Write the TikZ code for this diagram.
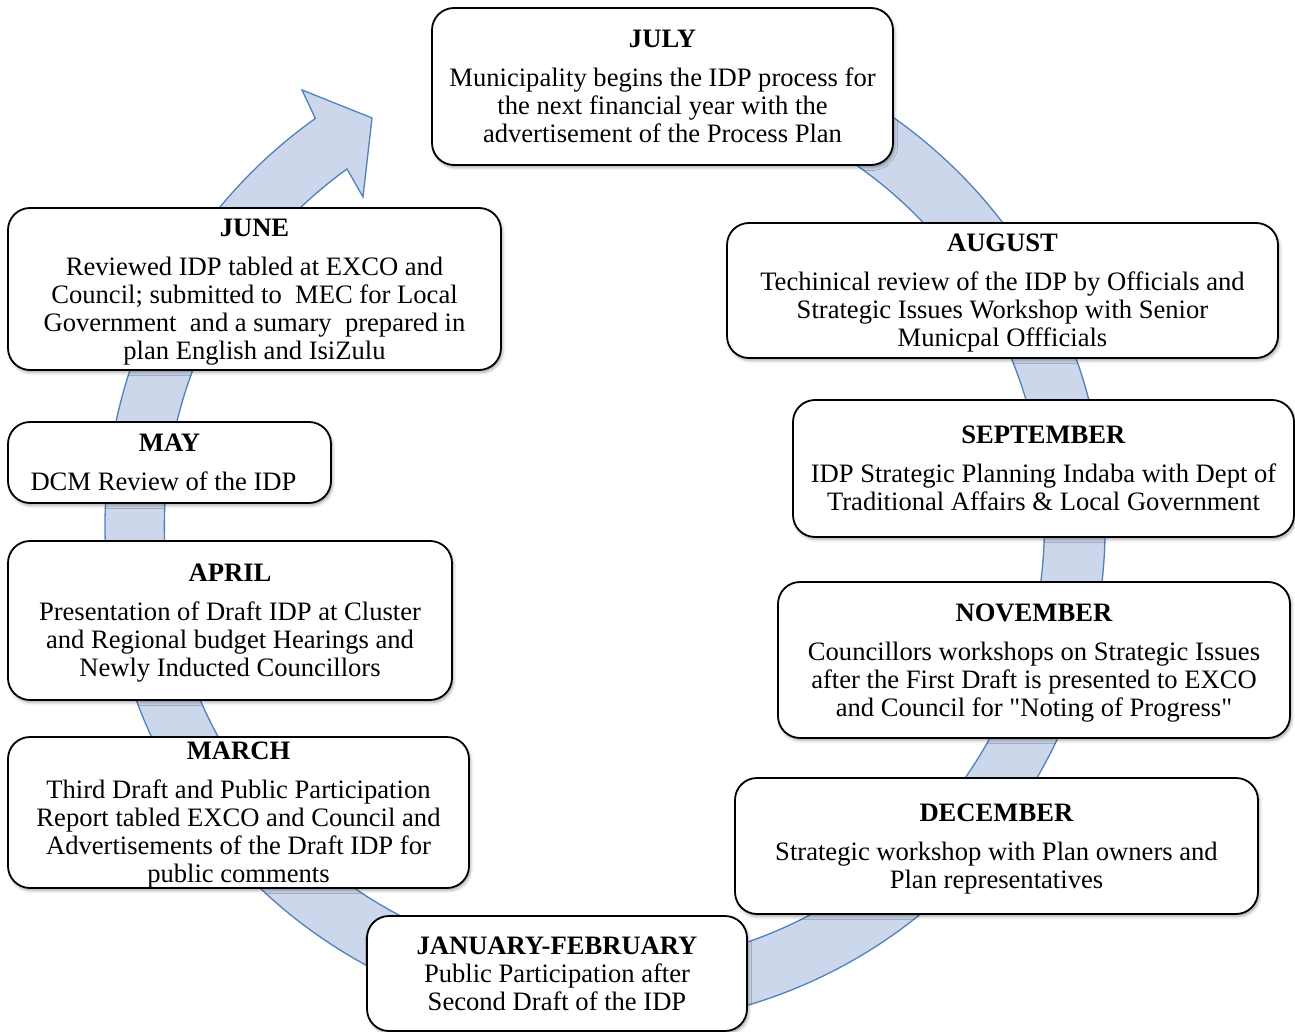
\documentclass[tikz,border=0pt]{standalone}
\usepackage{fontspec}
\setmainfont{Liberation Serif}[Ligatures=TeXOff]
\usetikzlibrary{shadows.blur}
\definecolor{bandfill}{RGB}{204,215,235}
\definecolor{bandline}{RGB}{79,129,189}
\tikzset{
  box/.style={draw=black, line width=1.8pt, fill=white, rounded corners=22pt,
    align=center, inner sep=0pt, font=\fontsize{26.6}{28}\selectfont,
    blur shadow={shadow xshift=1.5pt, shadow yshift=-2.5pt, shadow blur radius=3pt, shadow opacity=35}},
  band/.style={fill=bandfill, draw=bandline, line width=1.3pt},
}
\newcommand{\hd}[1]{\textbf{#1}\\[11pt]}
\newcommand{\lst}[1]{\raisebox{0pt}[\height][0pt]{#1}}
\begin{document}
\begin{tikzpicture}[x=1pt,y=-1pt]
\useasboundingbox (0,0) rectangle (1295,1032);
% circular band with arrow head
\draw[band] (605,526) ++(-105:500) arc[start angle=-105, end angle=234.6, radius=500]
  -- (302,90) -- (372,118) -- (363,197) -- (347,169)
  arc[start angle=234.2, end angle=-105, radius=440] -- cycle;
% boxes
\node[box, minimum width=461pt, minimum height=157pt] (jul) at (662.5,86.5)
  {\hd{JULY}Municipality begins the IDP process for\\the next financial year with the\\\lst{advertisement of the Process Plan}};
\node[box, minimum width=551pt, minimum height=135pt] (aug) at (1002.5,290.5)
  {\hd{AUGUST}Techinical review of the IDP by Officials and\\Strategic Issues Workshop with Senior\\\lst{Municpal Offficials}};
\node[box, minimum width=501pt, minimum height=137pt] (sep) at (1043.5,468.5)
  {\hd{SEPTEMBER}IDP Strategic Planning Indaba with Dept of\\\lst{Traditional Affairs \& Local Government}};
\node[box, minimum width=512pt, minimum height=156pt] (nov) at (1034,660)
  {\hd{NOVEMBER}Councillors workshops on Strategic Issues\\after the First Draft is presented to EXCO\\\lst{and Council for "Noting of Progress"}};
\node[box, minimum width=523pt, minimum height=136pt] (dec) at (996.5,846)
  {\hd{DECEMBER}Strategic workshop with Plan owners and\\\lst{Plan representatives}};
\node[box, minimum width=380pt, minimum height=115pt] (janfeb) at (557,973.5)
  {\textbf{JANUARY-FEBRUARY}\\Public Participation after\\\lst{Second Draft of the IDP}};
\node[box, minimum width=461pt, minimum height=151pt] (mar) at (238.5,812.5)
  {\hd{MARCH}Third Draft and Public Participation\\Report tabled EXCO and Council and\\Advertisements of the Draft IDP for\\\lst{public comments}};
\node[box, minimum width=444pt, minimum height=159pt] (apr) at (230,620.5)
  {\hd{APRIL}Presentation of Draft IDP at Cluster\\and Regional budget Hearings and\\\lst{Newly Inducted Councillors}};
\node[box, minimum width=323pt, minimum height=81pt] (may) at (169.5,462.5)
  {\hd{MAY}\lst{DCM Review of the IDP\hspace*{12pt}}};
\node[box, minimum width=493pt, minimum height=162pt] (jun) at (254.5,289)
  {\hd{JUNE}Reviewed IDP tabled at EXCO and\\Council; submitted to\ \ MEC for Local\\Government\ \ and a sumary\ \ prepared in\\\lst{plan English and IsiZulu}};
\end{tikzpicture}
\end{document}
